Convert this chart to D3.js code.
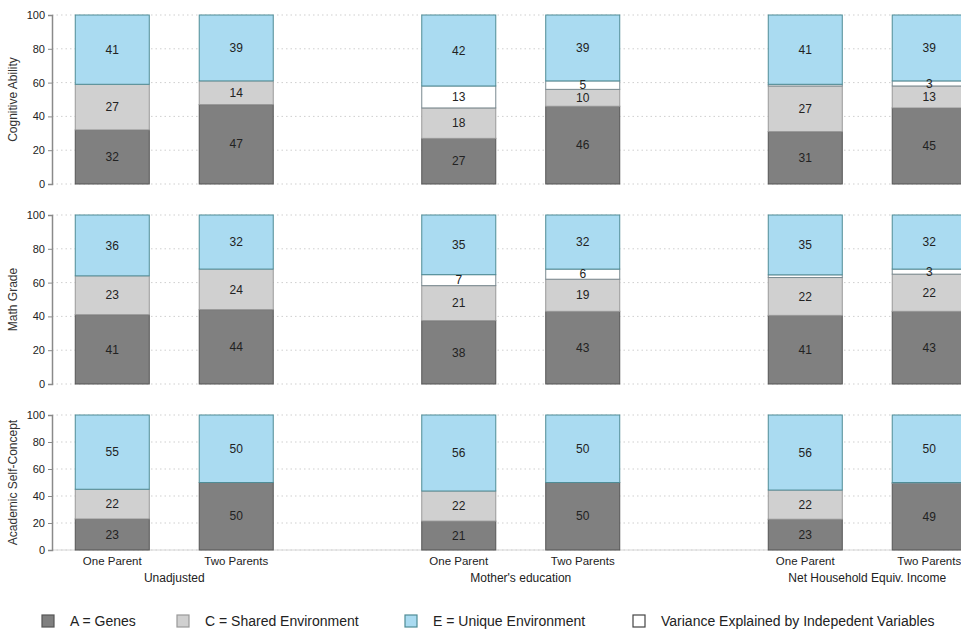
<!DOCTYPE html>
<html>
<head>
<meta charset="utf-8">
<script src="https://cdn.jsdelivr.net/npm/d3@7"></script>
<style>
  body { margin: 0; background: #fff; }
  svg { font-family: "Liberation Sans", Arial, sans-serif; display: block; }
</style>
</head>
<body>
<svg id="chart" width="961" height="631"></svg>
<script>
// outcomes (rows), adjustment models (groups), family type (bars)
const outcomes = ["Cognitive Ability", "Math Grade", "Academic Self-Concept"];
const models = ["Unadjusted", "Mother's education", "Net Household Equiv. Income"];
const families = ["One Parent", "Two Parents"];
const yTicks = [0, 20, 40, 60, 80, 100];

// each row: Unadj One, Unadj Two, Mother One, Mother Two, Income One, Income Two
const genes = [
  [32, 47, 27, 46, 31, 45],
  [41, 44, 37.5, 43, 40.6, 43],
  [23, 50, 21.4, 50, 22.8, 49.3],
];
const shared = [
  [27, 14, 18, 10, 27, 13],
  [23, 24, 20.7, 19, 22.4, 22],
  [22, 0, 22.3, 0, 21.6, 0],
];
const explained = [
  [0, 0, 13, 5, 1, 3],
  [0, 0, 6.5, 6, 1.6, 3],
  [0, 0, 0, 0, 0, 0.7],
];
const unique = [
  [41, 39, 42, 39, 41, 39],
  [36, 32, 35.3, 32, 35.4, 32],
  [55, 50, 56.3, 50, 55.6, 50],
];

// legend order as in the figure
const legendKeys = ["A", "C", "E", "V"];
const legendLabels = [
  "A = Genes",
  "C = Shared Environment",
  "E = Unique Environment",
  "Variance Explained by Indepedent Variables",
];

// stacking order bottom -> top
const components = [
  { key: "A", values: genes, fill: "#808080", stroke: "#555" },
  { key: "C", values: shared, fill: "#d0d0d0", stroke: "#999" },
  { key: "V", values: explained, fill: "#ffffff", stroke: "#7a8a90" },
  { key: "E", values: unique, fill: "#aadbf1", stroke: "#4f8c96" },
];

const svg = d3.select("#chart");
const W = 961;
const axisX = 52;

// panel geometry
const panelTop = [15, 215, 415];
const panelH = [169, 169, 135];

const xGroup = d3.scaleBand().domain(models).range([1, 1040.5]);
const xBar = d3
  .scaleBand()
  .domain(families)
  .range([0, xGroup.bandwidth()])
  .paddingInner(0.403)
  .paddingOuter(0.599);

outcomes.forEach((outcome, oi) => {
  const y = d3
    .scaleLinear()
    .domain([0, 100])
    .range([panelTop[oi] + panelH[oi], panelTop[oi]]);

  const g = svg.append("g");

  // dotted gridlines
  g.selectAll("line.grid")
    .data(yTicks)
    .join("line")
    .attr("x1", axisX)
    .attr("x2", W)
    .attr("y1", (d) => y(d))
    .attr("y2", (d) => y(d))
    .attr("stroke", "#cfcfcf")
    .attr("stroke-dasharray", "1.5,3");

  if (oi === outcomes.length - 1) {
    g.append("line")
      .attr("x1", axisX)
      .attr("x2", W)
      .attr("y1", y(0))
      .attr("y2", y(0))
      .attr("stroke", "#d6d6d6");
  }

  // y axis
  const ax = g
    .append("g")
    .attr("transform", `translate(${axisX},0)`)
    .call(d3.axisLeft(y).tickValues(yTicks).tickSize(4).tickPadding(3));
  ax.select(".domain").attr("stroke", "#8a8a8a").attr("stroke-width", 1.5);
  ax.selectAll(".tick line").attr("stroke", "#8a8a8a");
  ax.selectAll("text")
    .attr("fill", "#222")
    .style("font-size", "11px")
    .style("font-family", "Liberation Sans, Arial, sans-serif");

  // y title
  g.append("text")
    .attr("transform", `translate(17,${panelTop[oi] + panelH[oi] / 2}) rotate(-90)`)
    .attr("text-anchor", "middle")
    .attr("fill", "#333")
    .style("font-size", "12px")
    .text(outcome);

  // stacked bars
  const cells = [];
  models.forEach((m, mi) => {
    families.forEach((f, fi) => {
      const idx = mi * 2 + fi;
      let base = 0;
      components.forEach((c) => {
        const v = c.values[oi][idx];
        if (v > 0) cells.push({ m, f, c, y0: base, y1: base + v, v });
        base += v;
      });
    });
  });

  const bw = xBar.bandwidth();
  g.selectAll("rect.seg")
    .data(cells)
    .join("rect")
    .attr("class", "seg")
    .attr("x", (d) => xGroup(d.m) + xBar(d.f))
    .attr("y", (d) => y(d.y1))
    .attr("width", bw)
    .attr("height", (d) => y(d.y0) - y(d.y1))
    .attr("fill", (d) => d.c.fill)
    .attr("stroke", (d) => d.c.stroke)
    .attr("stroke-width", 1);

  g.selectAll("text.val")
    .data(cells.filter((d) => d.v >= 2.5))
    .join("text")
    .attr("class", "val")
    .attr("x", (d) => xGroup(d.m) + xBar(d.f) + bw / 2)
    .attr("y", (d) => (y(d.y0) + y(d.y1)) / 2)
    .attr("dy", "0.35em")
    .attr("text-anchor", "middle")
    .attr("fill", "#222")
    .style("font-size", "12px")
    .text((d) => Math.round(d.v));

  // category + group labels under last panel
  if (oi === outcomes.length - 1) {
    models.forEach((m) => {
      families.forEach((f) => {
        g.append("text")
          .attr("x", xGroup(m) + xBar(f) + bw / 2)
          .attr("y", y(0) + 15)
          .attr("text-anchor", "middle")
          .attr("fill", "#222")
          .style("font-size", "11.5px")
          .text(f);
      });
      g.append("text")
        .attr("x", xGroup(m) + xGroup.bandwidth() / 2)
        .attr("y", y(0) + 32)
        .attr("text-anchor", "middle")
        .attr("fill", "#222")
        .style("font-size", "12px")
        .text(m);
    });
  }
});

// legend
const legendX = [42, 177, 405, 633];
const byKey = Object.fromEntries(components.map((c) => [c.key, c]));
const leg = svg
  .append("g")
  .selectAll("g")
  .data(legendKeys.map((k) => byKey[k]))
  .join("g")
  .attr("transform", (d, i) => `translate(${legendX[i]},615)`);
leg.append("rect")
  .attr("width", 12)
  .attr("height", 12)
  .attr("fill", (d) => d.fill)
  .attr("stroke", (d) => (d.key === "V" ? "#444" : d.stroke))
  .attr("stroke-width", 1.2);
leg.append("text")
  .attr("x", 28)
  .attr("y", 6)
  .attr("dy", "0.35em")
  .attr("fill", "#222")
  .style("font-size", "14px")
  .text((d, i) => legendLabels[i]);
</script>
</body>
</html>
